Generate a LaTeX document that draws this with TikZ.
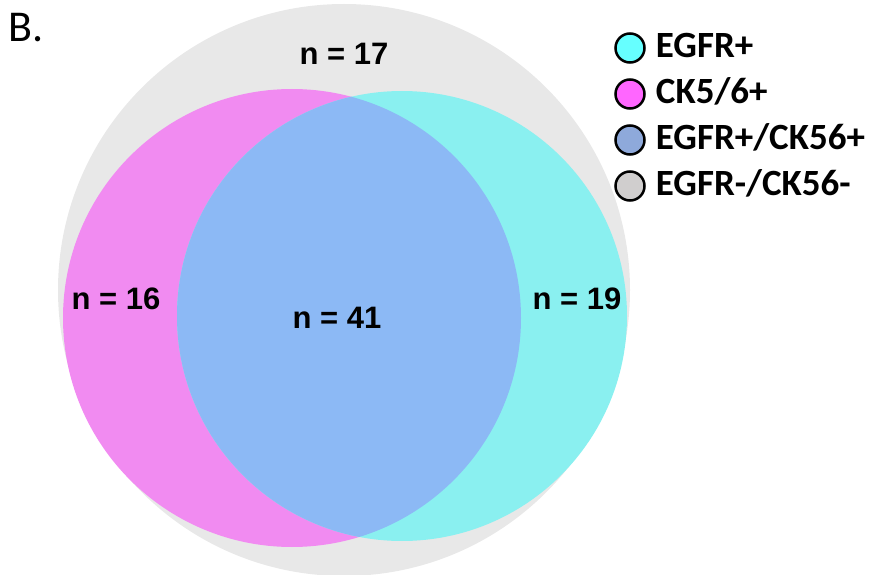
\documentclass[tikz,border=0pt]{standalone}
\usepackage{fontspec}
\setmainfont{Carlito}
\newfontfamily\arialfont{Liberation Sans}
\usepackage{xcolor}
\usepackage{tikz}
\usetikzlibrary{positioning}
\definecolor{venngray}{RGB}{232,232,232}
\definecolor{vennpink}{RGB}{241,139,241}
\definecolor{venncyan}{RGB}{138,240,240}
\definecolor{vennblue}{RGB}{140,185,245}
\definecolor{keycyan}{RGB}{102,255,255}
\definecolor{keypink}{RGB}{255,102,255}
\definecolor{keyblue}{RGB}{142,169,219}
\definecolor{keygray}{RGB}{208,206,206}
\tikzstyle{countlabel} = [font=\arialfont\bfseries\fontsize{31}{31}\selectfont, inner sep=0pt]
\tikzstyle{keytext} = [font=\bfseries\fontsize{37}{37}\selectfont, inner sep=0pt,
    text height=26pt, text depth=7pt]
\tikzstyle{keydot} = [circle, draw=black, line width=2.5pt, minimum size=29pt, inner sep=0pt]

\begin{document}
\begin{tikzpicture}[x=1pt,y=-1pt]
                \useasboundingbox (0,0) rectangle (871,575);
                % Venn circles
                \fill [venngray] (344,290) circle (286);
                \fill [vennpink] (292,318) circle (229);
                \fill [venncyan] (402,316) circle (225);
                \begin{scope}
                    \clip (292,318) circle (229);
                    \fill [vennblue] (402,316) circle (225);
                \end{scope}

                % Panel letter
                \node [font=\fontsize{44}{44}\selectfont, inner sep=0pt, anchor=north west] (panel) at (8,13) {B.};

                % Counts
                \node [countlabel] (nneither) at (344,54) {n = 17};
                \node [countlabel] (nck) at (116,299) {n = 16};
                \node [countlabel] (nboth) at (337,318) {n = 41};
                \node [countlabel] (negfr) at (577,299) {n = 19};

                % Legend
                \node [keydot, fill=keycyan] (dotegfr) at (630,48) {};
                \node [keydot, fill=keypink, below=14.5pt of dotegfr] (dotck) {};
                \node [keydot, fill=keyblue, below=14.5pt of dotck] (dotboth) {};
                \node [keydot, fill=keygray, below=14.5pt of dotboth] (dotneither) {};
                \node [keytext, right=10pt of dotegfr] (keyegfr) {EGFR+};
                \node [keytext, right=10pt of dotck] (keyck) {CK5/6+};
                \node [keytext, right=10pt of dotboth] (keyboth) {EGFR+/CK56+};
                \node [keytext, right=10pt of dotneither] (keyneither) {EGFR-/CK56-};
            \end{tikzpicture}
\end{document}
